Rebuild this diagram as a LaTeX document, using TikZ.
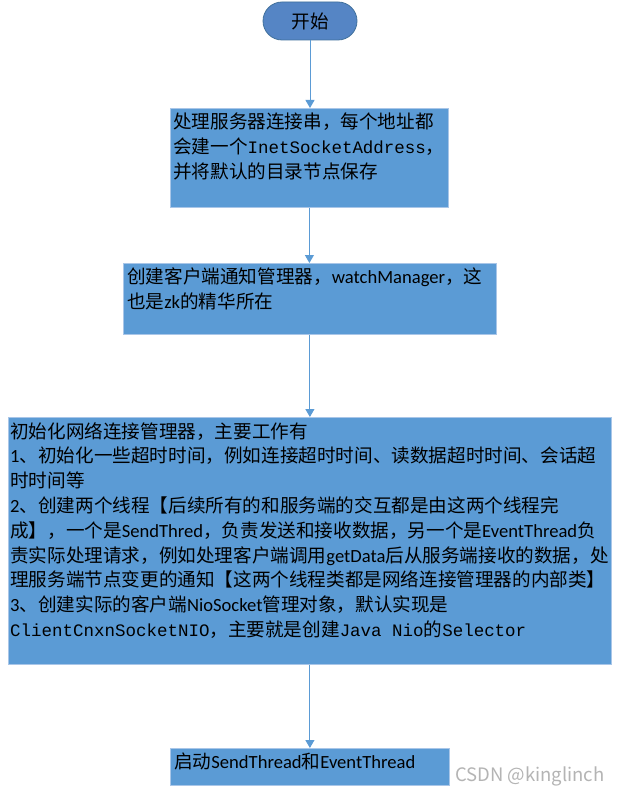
\documentclass[tikz,border=0pt]{standalone}
\usepackage{fontspec}
\setmainfont{Noto Sans CJK SC}
\newfontfamily\calf{Carlito}
\newfontfamily\monof[Scale=0.94]{Liberation Mono}
\usetikzlibrary{arrows.meta}
\definecolor{boxblue}{HTML}{5B9BD5}
\definecolor{boxedge}{HTML}{A9C6E8}
\definecolor{termblue}{HTML}{5585C5}
\definecolor{termedge}{HTML}{41719C}
\definecolor{wm}{HTML}{B4B4B4}
\tikzset{
  boxnode/.style={draw=boxedge, line width=0.8pt, fill=boxblue, anchor=north west, inner sep=0pt},
  txt/.style={anchor=north west, inner sep=0pt, align=left, font=\fontsize{18.6}{24.8}\selectfont, text=black},
  arr/.style={draw=boxblue, line width=1pt, -{Triangle[length=8pt,width=9pt]}},
}
\begin{document}
\begin{tikzpicture}[x=1pt,y=-1pt]
\useasboundingbox (0,0) rectangle (619,794);
\fill[white] (0,0) rectangle (619,794);
% start terminal
\node[draw=termedge, line width=0.8pt, fill=termblue, rounded corners=19pt, minimum width=94pt, minimum height=38pt, inner sep=0pt, font=\fontsize{18.6}{22}\selectfont] (s) at (310,21) {开始};
% boxes
\node[boxnode, minimum width=278pt, minimum height=99pt] (b1) at (170,108) {};
\node[boxnode, minimum width=373pt, minimum height=71pt] (b2) at (123,263) {};
\node[boxnode, minimum width=603pt, minimum height=247pt] (b3) at (8,417) {};
\node[boxnode, minimum width=279pt, minimum height=37pt] (b4) at (170,748) {};
% texts
\node[txt] (t1) at ([xshift=3pt,yshift=-5pt]b1.north west) {处理服务器连接串，每个地址都\\
会建一个{\monof InetSocketAddress}，\\
并将默认的目录节点保存};
\node[txt] (t2) at ([xshift=4pt,yshift=-5pt]b2.north west) {创建客户端通知管理器，{\calf watchManager}，这\\
也是{\calf zk}的精华所在};
\node[txt] (t3) at ([xshift=2pt,yshift=-5pt]b3.north west) {初始化网络连接管理器，主要工作有\\
{\calf 1}、初始化一些超时时间，例如连接超时时间、读数据超时时间、会话超\\
时时间等\\
{\calf 2}、创建两个线程【后续所有的和服务端的交互都是由这两个线程完\\
成】，一个是{\calf SendThred}，负责发送和接收数据，另一个是{\calf EventThread}负\\
责实际处理请求，例如处理客户端调用{\calf getData}后从服务端接收的数据，处\\
理服务端节点变更的通知【这两个线程类都是网络连接管理器的内部类】\\
{\calf 3}、创建实际的客户端{\calf NioSocket}管理对象，默认实现是\\
{\monof ClientCnxnSocketNIO}，主要就是创建{\monof Java Nio}的{\monof Selector}};
\node[txt] (t4) at ([xshift=4pt,yshift=-5pt]b4.north west) {启动{\calf SendThread}和{\calf EventThread}};
% arrows
\draw[arr] (s.south) -- (s.south |- b1.north);
\draw[arr] (b1.south) -- (b1.south |- b2.north);
\draw[arr] (b2.south) -- (b2.south |- b3.north);
\draw[arr] (b3.south) -- (b3.south |- b4.north);
% watermark
\node[anchor=west, inner sep=0pt, text=wm, font=\fontsize{18.5}{21}\selectfont] (w) at (455,776) {CSDN @kinglinch};
\end{tikzpicture}
\end{document}
